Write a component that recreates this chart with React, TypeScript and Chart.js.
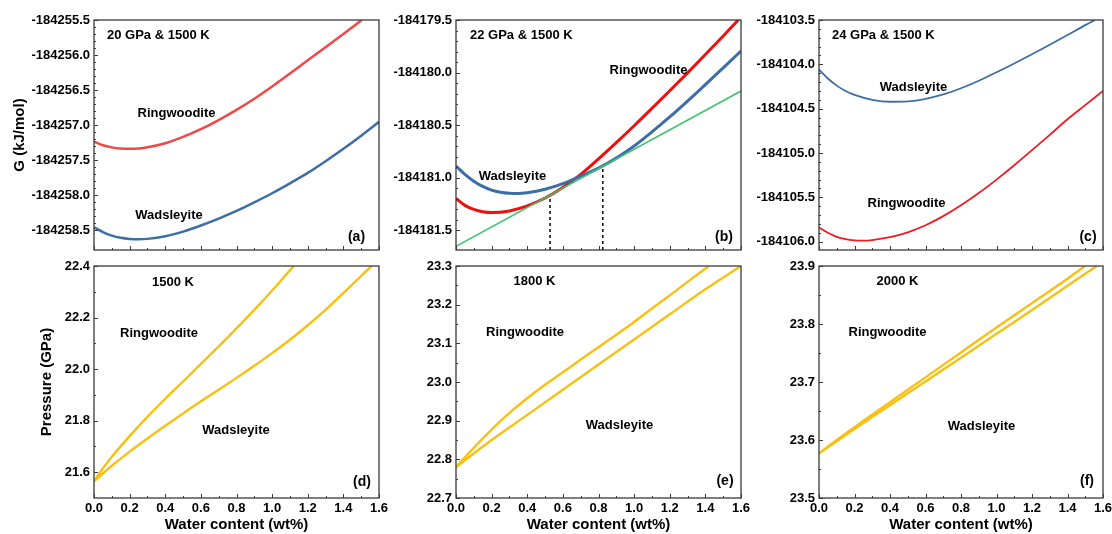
import React, { useEffect, useRef } from "react";
import { Chart, registerables } from "chart.js";
Chart.register(...registerables);

const FONT = "'Liberation Sans', Arial, Helvetica, sans-serif";

// ---------- Panel (a): 20 GPa & 1500 K ----------
const aRingW = [0, 0.05, 0.1, 0.15, 0.2, 0.25, 0.3, 0.4, 0.5, 0.6, 0.7, 0.8, 0.9, 1.0, 1.1, 1.2, 1.3, 1.4, 1.503];
const aRingG = [-184257.238, -184257.29, -184257.32, -184257.336, -184257.34, -184257.335, -184257.318, -184257.26, -184257.17, -184257.06, -184256.93, -184256.785, -184256.625, -184256.45, -184256.265, -184256.075, -184255.89, -184255.7, -184255.5];
const aWadsW = [0, 0.05, 0.1, 0.15, 0.2, 0.25, 0.3, 0.4, 0.5, 0.6, 0.7, 0.8, 0.9, 1.0, 1.1, 1.2, 1.3, 1.4, 1.5, 1.6];
const aWadsG = [-184258.462, -184258.53, -184258.58, -184258.612, -184258.628, -184258.633, -184258.627, -184258.59, -184258.523, -184258.436, -184258.337, -184258.228, -184258.105, -184257.975, -184257.834, -184257.685, -184257.518, -184257.34, -184257.152, -184256.955];
const aYTicks = [-184258.5, -184258.0, -184257.5, -184257.0, -184256.5, -184256.0, -184255.5];

// ---------- Panel (b): 22 GPa & 1500 K ----------
const bRingW = [0, 0.05, 0.1, 0.15, 0.2, 0.3, 0.4, 0.5, 0.6, 0.7, 0.8, 0.9, 1.0, 1.1, 1.2, 1.3, 1.4, 1.5, 1.585];
const bRingG = [-184181.2, -184181.265, -184181.303, -184181.326, -184181.334, -184181.318, -184181.27, -184181.195, -184181.095, -184180.97, -184180.822, -184180.667, -184180.507, -184180.342, -184180.174, -184180.003, -184179.829, -184179.652, -184179.5];
const bWadsW = [0, 0.05, 0.1, 0.15, 0.2, 0.25, 0.3, 0.35, 0.4, 0.5, 0.6, 0.7, 0.8, 0.9, 1.0, 1.1, 1.2, 1.3, 1.4, 1.5, 1.6];
const bWadsG = [-184180.89, -184180.97, -184181.035, -184181.085, -184181.12, -184181.14, -184181.15, -184181.152, -184181.145, -184181.112, -184181.058, -184180.987, -184180.91, -184180.815, -184180.7, -184180.565, -184180.423, -184180.272, -184180.115, -184179.955, -184179.795];
const bTangentW = [0, 1.6];
const bTangentG = [-184181.655, -184180.176];
const bDash1W = [0.528, 0.528];
const bDash1G = [-184181.69, -184181.167];
const bDash2W = [0.824, 0.824];
const bDash2G = [-184181.69, -184180.894];
const bYTicks = [-184181.5, -184181.0, -184180.5, -184180.0, -184179.5];

// ---------- Panel (c): 24 GPa & 1500 K ----------
const cWadsW = [0, 0.05, 0.1, 0.15, 0.2, 0.3, 0.4, 0.5, 0.6, 0.7, 0.8, 0.9, 1.0, 1.1, 1.2, 1.3, 1.4, 1.5, 1.555];
const cWadsG = [-184104.06, -184104.16, -184104.24, -184104.3, -184104.345, -184104.4, -184104.422, -184104.418, -184104.39, -184104.34, -184104.27, -184104.185, -184104.09, -184103.99, -184103.887, -184103.78, -184103.67, -184103.558, -184103.5];
const cRingW = [0, 0.05, 0.1, 0.15, 0.2, 0.25, 0.3, 0.4, 0.5, 0.6, 0.7, 0.8, 0.9, 1.0, 1.1, 1.2, 1.3, 1.4, 1.5, 1.6];
const cRingG = [-184105.84, -184105.9, -184105.945, -184105.972, -184105.985, -184105.988, -184105.982, -184105.95, -184105.895, -184105.815, -184105.712, -184105.59, -184105.452, -184105.3, -184105.138, -184104.968, -184104.795, -184104.62, -184104.46, -184104.3];
const cYTicks = [-184106.0, -184105.5, -184105.0, -184104.5, -184104.0, -184103.5];

// ---------- Panel (d): 1500 K ----------
const dUpW = [0, 0.05, 0.1, 0.2, 0.3, 0.4, 0.5, 0.6, 0.7, 0.8, 0.9, 1.0, 1.1, 1.123];
const dUpP = [21.565, 21.615, 21.66, 21.74, 21.815, 21.885, 21.952, 22.02, 22.088, 22.158, 22.23, 22.305, 22.383, 22.4];
const dLowW = [0, 0.1, 0.2, 0.3, 0.4, 0.5, 0.6, 0.7, 0.8, 0.9, 1.0, 1.1, 1.2, 1.3, 1.4, 1.5, 1.559];
const dLowP = [21.565, 21.625, 21.68, 21.731, 21.78, 21.828, 21.875, 21.92, 21.966, 22.013, 22.062, 22.114, 22.17, 22.23, 22.295, 22.362, 22.4];
const dYTicks = [21.6, 21.8, 22.0, 22.2, 22.4];

// ---------- Panel (e): 1800 K ----------
const eUpW = [0, 0.1, 0.2, 0.3, 0.4, 0.5, 0.6, 0.7, 0.8, 0.9, 1.0, 1.1, 1.2, 1.3, 1.42];
const eUpP = [22.78, 22.83, 22.877, 22.92, 22.958, 22.993, 23.025, 23.058, 23.09, 23.122, 23.155, 23.19, 23.224, 23.259, 23.3];
const eLowW = [0, 0.2, 0.4, 0.6, 0.8, 1.0, 1.2, 1.4, 1.6];
const eLowP = [22.78, 22.85, 22.915, 22.98, 23.045, 23.11, 23.175, 23.24, 23.3];
const eYTicks = [22.7, 22.8, 22.9, 23.0, 23.1, 23.2, 23.3];

// ---------- Panel (f): 2000 K ----------
const fUpW = [0, 0.1, 0.2, 0.4, 0.6, 0.8, 1.0, 1.2, 1.4, 1.499];
const fUpP = [23.577, 23.6, 23.622, 23.665, 23.708, 23.751, 23.794, 23.836, 23.878, 23.9];
const fLowW = [0, 0.2, 0.4, 0.6, 0.8, 1.0, 1.2, 1.4, 1.565];
const fLowP = [23.577, 23.619, 23.66, 23.701, 23.742, 23.783, 23.824, 23.866, 23.9];
const fYTicks = [23.5, 23.6, 23.7, 23.8, 23.9];

const xTicks = [0.0, 0.2, 0.4, 0.6, 0.8, 1.0, 1.2, 1.4, 1.6];

const pts = (xs: number[], ys: number[]) => xs.map((x, i) => ({ x, y: ys[i] }));
const minors = (major: number[], n: number) => {
  const out: number[] = [];
  for (let i = 0; i < major.length - 1; i++) {
    const step = (major[i + 1] - major[i]) / n;
    for (let k = 1; k < n; k++) out.push(major[i] + step * k);
  }
  return out;
};

const RED_A = "#f04848";
const RED_B = "#ee1010";
const RED_C = "#ee1c22";
const BLUE = "#3c6ea5";
const GREEN = "#3ec46c";
const YELLOW = "#f8c012";

type Txt = { t: string; x: number; y: number; align?: CanvasTextAlign; size?: number };

const framePlugin = {
  id: "frameTicks",
  afterDatasetsDraw(chart: any, _args: any, opts: any) {
    const { ctx, chartArea: ca, scales } = chart;
    const xs = scales.x, ys = scales.y;
    ctx.save();
    ctx.strokeStyle = "#3a3a3a";
    ctx.lineWidth = 1.3;
    ctx.strokeRect(ca.left, ca.top, ca.right - ca.left, ca.bottom - ca.top);
    ctx.lineWidth = 1;
    const vLine = (v: number, len: number) => {
      const x = Math.round(xs.getPixelForValue(v)) + 0.5;
      ctx.beginPath(); ctx.moveTo(x, ca.bottom); ctx.lineTo(x, ca.bottom - len); ctx.stroke();
    };
    const hLine = (v: number, len: number) => {
      const y = Math.round(ys.getPixelForValue(v)) + 0.5;
      ctx.beginPath(); ctx.moveTo(ca.left, y); ctx.lineTo(ca.left + len, y); ctx.stroke();
    };
    (opts.xMajor || []).forEach((v: number) => vLine(v, 4));
    (opts.xMinor || []).forEach((v: number) => vLine(v, 2));
    (opts.yMajor || []).forEach((v: number) => hLine(v, 4));
    (opts.yMinor || []).forEach((v: number) => hLine(v, 2));
    ctx.fillStyle = "#000";
    ctx.textBaseline = "middle";
    (opts.texts || []).forEach((t: Txt) => {
      ctx.font = `bold ${t.size || 13}px ${FONT}`;
      ctx.textAlign = t.align || "center";
      ctx.fillText(t.t, ca.left + t.x, ca.top + t.y);
    });
    ctx.restore();
  },
};

type Panel = {
  left: number; top: number; w: number; h: number;
  padTop: number; padRight: number; yWidth: number; xHeight: number;
  yMin: number; yMax: number; yTicks: number[]; yMinorN: number; yDec: number;
  showX: boolean; yTitle?: string; yTitlePad?: number;
  datasets: any[]; texts: Txt[];
};

const line = (xs: number[], ys: number[], color: string, width: number, extra: any = {}) => ({
  data: pts(xs, ys),
  borderColor: color,
  borderWidth: width,
  pointRadius: 0,
  fill: false,
  cubicInterpolationMode: "monotone",
  ...extra,
});

const straight = { cubicInterpolationMode: "default", tension: 0 };

const panels: Panel[] = [
  {
    left: 0, top: 0, w: 394, h: 258, padTop: 20, padRight: 15, yWidth: 94, xHeight: 8,
    yMin: -184258.786, yMax: -184255.5, yTicks: aYTicks, yMinorN: 5, yDec: 1, showX: false,
    yTitle: "G (kJ/mol)", yTitlePad: 11,
    datasets: [line(aRingW, aRingG, RED_A, 2.5), line(aWadsW, aWadsG, BLUE, 2.5)],
    texts: [
      { t: "20 GPa & 1500 K", x: 13, y: 15, align: "left" },
      { t: "Ringwoodite", x: 82.5, y: 93 },
      { t: "Wadsleyite", x: 75, y: 195 },
      { t: "(a)", x: 262.5, y: 217, size: 14 },
    ],
  },
  {
    left: 380, top: 0, w: 376, h: 258, padTop: 20, padRight: 15, yWidth: 76, xHeight: 8,
    yMin: -184181.69, yMax: -184179.5, yTicks: bYTicks, yMinorN: 5, yDec: 1, showX: false,
    datasets: [
      line(bTangentW, bTangentG, GREEN, 1.6, straight),
      line(bDash1W, bDash1G, "#111", 1.6, { borderDash: [3, 3], ...straight }),
      line(bDash2W, bDash2G, "#111", 1.6, { borderDash: [3, 3], ...straight }),
      line(bWadsW, bWadsG, BLUE, 3),
      line(bRingW, bRingG, RED_B, 3),
    ],
    texts: [
      { t: "22 GPa & 1500 K", x: 14, y: 15, align: "left" },
      { t: "Ringwoodite", x: 192.5, y: 50 },
      { t: "Wadsleyite", x: 56.5, y: 156 },
      { t: "(b)", x: 268, y: 217, size: 14 },
    ],
  },
  {
    left: 745, top: 0, w: 367, h: 258, padTop: 20, padRight: 9, yWidth: 74, xHeight: 8,
    yMin: -184106.094, yMax: -184103.5, yTicks: cYTicks, yMinorN: 5, yDec: 1, showX: false,
    datasets: [line(cWadsW, cWadsG, BLUE, 1.8), line(cRingW, cRingG, RED_C, 1.8)],
    texts: [
      { t: "24 GPa & 1500 K", x: 13, y: 15, align: "left" },
      { t: "Wadsleyite", x: 94.5, y: 67 },
      { t: "Ringwoodite", x: 87.5, y: 183 },
      { t: "(c)", x: 269, y: 217, size: 14 },
    ],
  },
  {
    left: 0, top: 250, w: 394, h: 284, padTop: 16, padRight: 15, yWidth: 94, xHeight: 36,
    yMin: 21.5, yMax: 22.4, yTicks: dYTicks, yMinorN: 2, yDec: 1, showX: true,
    yTitle: "Pressure (GPa)", yTitlePad: 38,
    datasets: [line(dUpW, dUpP, YELLOW, 2.4), line(dLowW, dLowP, YELLOW, 2.4)],
    texts: [
      { t: "1500 K", x: 79, y: 16 },
      { t: "Ringwoodite", x: 65, y: 67 },
      { t: "Wadsleyite", x: 142, y: 164 },
      { t: "(d)", x: 268, y: 216, size: 14 },
    ],
  },
  {
    left: 380, top: 250, w: 376, h: 284, padTop: 16, padRight: 15, yWidth: 76, xHeight: 36,
    yMin: 22.7, yMax: 23.3, yTicks: eYTicks, yMinorN: 2, yDec: 1, showX: true,
    datasets: [line(eUpW, eUpP, YELLOW, 2.4), line(eLowW, eLowP, YELLOW, 2.4)],
    texts: [
      { t: "1800 K", x: 78.5, y: 15 },
      { t: "Ringwoodite", x: 69, y: 66 },
      { t: "Wadsleyite", x: 163.5, y: 159 },
      { t: "(e)", x: 269, y: 215, size: 14 },
    ],
  },
  {
    left: 745, top: 250, w: 367, h: 284, padTop: 16, padRight: 9, yWidth: 74, xHeight: 36,
    yMin: 23.5, yMax: 23.9, yTicks: fYTicks, yMinorN: 2, yDec: 1, showX: true,
    datasets: [line(fUpW, fUpP, YELLOW, 2.4), line(fLowW, fLowP, YELLOW, 2.4)],
    texts: [
      { t: "2000 K", x: 78.5, y: 15 },
      { t: "Ringwoodite", x: 68.5, y: 66 },
      { t: "Wadsleyite", x: 162.5, y: 160 },
      { t: "(f)", x: 268, y: 215, size: 14 },
    ],
  },
];

function PanelChart({ p }: { p: Panel }) {
  const ref = useRef<HTMLCanvasElement>(null);
  useEffect(() => {
    if (!ref.current) return;
    const chart = new Chart(ref.current, {
      type: "line",
      data: { datasets: p.datasets },
      plugins: [framePlugin],
      options: {
        animation: false,
        responsive: false,
        devicePixelRatio: 1,
        events: [],
        layout: { padding: { top: p.padTop, right: p.padRight, left: 0, bottom: 0 } },
        plugins: {
          legend: { display: false },
          tooltip: { enabled: false },
          frameTicks: {
            xMajor: xTicks,
            xMinor: minors(xTicks, 2),
            yMajor: p.yTicks,
            yMinor: minors(p.yTicks, p.yMinorN),
            texts: p.texts,
          },
        } as any,
        scales: {
          x: {
            type: "linear",
            min: 0,
            max: 1.6,
            grid: { display: false, drawTicks: false },
            border: { display: false },
            ticks: {
              display: p.showX,
              autoSkip: false,
              maxRotation: 0,
              padding: 3,
              color: "#000",
              font: { family: FONT, size: 13, weight: "bold" },
              callback: (v: any) => Number(v).toFixed(1),
            },
            title: {
              display: p.showX,
              text: "Water content (wt%)",
              color: "#000",
              font: { family: FONT, size: 15, weight: "bold" },
              padding: { top: 0, bottom: 0 },
            },
            afterBuildTicks: (s: any) => { s.ticks = xTicks.map((v) => ({ value: v })); },
            afterFit: (s: any) => { s.height = p.xHeight; s.paddingLeft = 0; s.paddingRight = 0; },
          },
          y: {
            type: "linear",
            min: p.yMin,
            max: p.yMax,
            grid: { display: false, drawTicks: false },
            border: { display: false },
            ticks: {
              autoSkip: false,
              padding: 4,
              color: "#000",
              font: { family: FONT, size: 13, weight: "bold" },
              callback: (v: any) => Number(v).toFixed(p.yDec),
            },
            title: {
              display: !!p.yTitle,
              text: p.yTitle || "",
              color: "#000",
              font: { family: FONT, size: 15, weight: "bold" },
              padding: { top: p.yTitlePad || 0, bottom: 0 },
            },
            afterBuildTicks: (s: any) => { s.ticks = p.yTicks.map((v) => ({ value: v })); },
            afterFit: (s: any) => { s.width = p.yWidth; s.paddingTop = 0; s.paddingBottom = 0; },
          },
        },
      } as any,
    });
    return () => chart.destroy();
  }, [p]);
  return (
    <canvas
      ref={ref}
      width={p.w}
      height={p.h}
      style={{ position: "absolute", left: p.left, top: p.top, width: p.w, height: p.h }}
    />
  );
}

export default function App() {
  return (
    <div
      style={{
        position: "fixed",
        left: 0,
        top: 0,
        width: 1112,
        height: 534,
        background: "#fff",
        overflow: "hidden",
      }}
    >
      {panels.map((p, i) => (
        <PanelChart key={i} p={p} />
      ))}
    </div>
  );
}
